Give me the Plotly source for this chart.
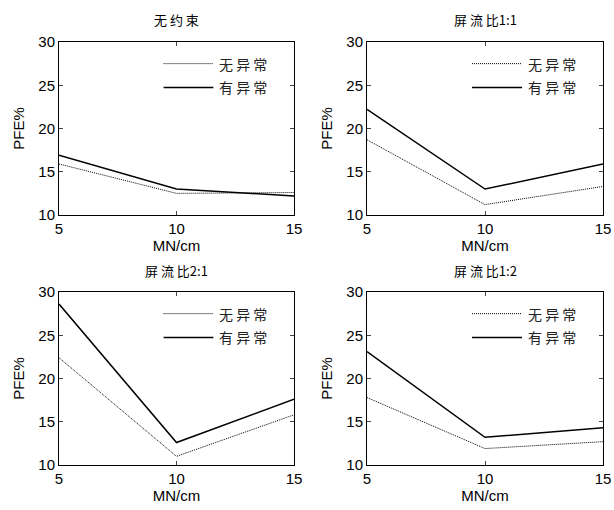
import plotly.graph_objects as go
from plotly.subplots import make_subplots

x_vals = [5, 10, 15]
titles = ["无 约 束", "屏 流 比1:1", "屏 流 比2:1", "屏 流 比1:2"]
series_names = ["无 异 常", "有 异 常"]
normal_vals = [
    [15.9, 12.5, 12.6],
    [18.7, 11.2, 13.3],
    [22.4, 11.0, 15.8],
    [17.8, 11.9, 12.7],
]
abnormal_vals = [
    [16.9, 13.0, 12.2],
    [22.2, 13.0, 15.9],
    [28.6, 12.6, 17.6],
    [23.1, 13.2, 14.3],
]
y_ticks = [10, 15, 20, 25, 30]
x_ticks = [5, 10, 15]

W, H = 614, 510
fig = make_subplots(rows=2, cols=2)

# panel pixel boxes: (left, right, top, bottom)
boxes = [(59, 294, 42, 215), (367, 603, 42, 215), (59, 294, 292, 465), (367, 603, 292, 465)]
title_y = [20, 20, 270, 270]

font_num = dict(family="Liberation Sans, Arial", size=15, color="black")
font_cjk = dict(family="Noto Sans CJK SC", size=14, color="#222")

for i in range(4):
    r, c = i // 2 + 1, i % 2 + 1
    fig.add_trace(go.Scatter(x=x_vals, y=normal_vals[i], mode="lines",
                             line=dict(color="black", width=1, dash="1px,1px"),
                             name=series_names[0], showlegend=False), row=r, col=c)
    fig.add_trace(go.Scatter(x=x_vals, y=abnormal_vals[i], mode="lines",
                             line=dict(color="black", width=1.5),
                             name=series_names[1], showlegend=False), row=r, col=c)
    L, R, T, B = boxes[i]
    ax = "" if i == 0 else str(i + 1)
    fig.layout["xaxis" + ax].update(domain=[L / W, R / W])
    fig.layout["yaxis" + ax].update(domain=[1 - B / H, 1 - T / H])
    fig.update_xaxes(range=[5, 15], tickvals=x_ticks, ticks="inside", ticklen=4,
                     showline=True, linecolor="black", linewidth=1, mirror="ticks",
                     showgrid=False, zeroline=False, tickfont=font_num, automargin=False,
                     title=dict(text="MN/cm", font=font_num, standoff=4), row=r, col=c)
    fig.update_yaxes(range=[10, 30], tickvals=y_ticks, ticks="inside", ticklen=4,
                     showline=True, linecolor="black", linewidth=1, mirror="ticks",
                     showgrid=False, zeroline=False, tickfont=font_num, automargin=False,
                     title=dict(text="PFE%", font=font_num, standoff=10), row=r, col=c)
    # title
    fig.add_annotation(text=titles[i], x=(L + R) / 2 / W, y=1 - title_y[i] / H,
                       xref="paper", yref="paper", showarrow=False,
                       font=dict(family="Noto Sans CJK SC", size=13, color="black"),
                       xanchor="center", yanchor="middle")
    # legend
    xr = ("x" + ax) + " domain"
    yr = ("y" + ax) + " domain"
    for k, (yy, dash, w) in enumerate([(0.875, "1px,1px", 1), (0.737, "solid", 1.5)]):
        fig.add_shape(type="line", xref=xr, yref=yr, x0=0.445, x1=0.657, y0=yy, y1=yy,
                      line=dict(color="black", width=w, dash=dash))
        fig.add_annotation(text=series_names[k], xref=xr, yref=yr, x=0.672, y=yy,
                           showarrow=False, xanchor="left", yanchor="middle",
                           font=font_cjk)

fig.update_layout(width=W, height=H, margin=dict(l=0, r=0, t=0, b=0),
                  plot_bgcolor="white", paper_bgcolor="white", showlegend=False)
fig.write_html("out.html", config={"displayModeBar": False},
               post_script="document.body.style.margin='0';")
